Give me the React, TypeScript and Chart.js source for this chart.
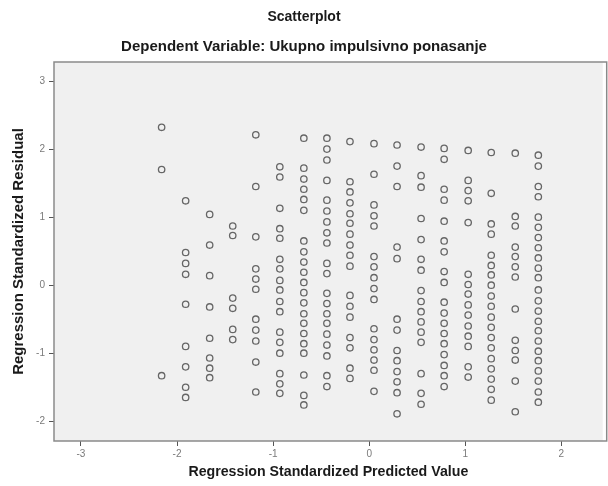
import { useEffect, useRef } from "react";
import { Chart, registerables } from "chart.js";

Chart.register(...registerables);

const titleText = "Scatterplot";
const subtitleText = "Dependent Variable: Ukupno impulsivno ponasanje";
const xAxisTitle = "Regression Standardized Predicted Value";
const yAxisTitle = "Regression Standardized Residual";

const xTickValues = [-3, -2, -1, 0, 1, 2];
const yTickValues = [-2, -1, 0, 1, 2, 3];

// Regression standardized predicted values (one per column of points)
const predictedValues = [
  -2.16, -1.91, -1.66, -1.42, -1.18, -0.93, -0.68, -0.44, -0.2, 0.05, 0.29,
  0.54, 0.78, 1.03, 1.27, 1.52, 1.76,
];

// Regression standardized residuals for each predicted value above
const residualsByColumn = [
  [2.32, 1.7, -1.33],
  [1.24, 0.48, 0.32, 0.16, -0.28, -0.9, -1.2, -1.5, -1.65],
  [1.04, 0.59, 0.14, -0.32, -0.78, -1.07, -1.22, -1.36],
  [0.87, 0.73, -0.19, -0.34, -0.65, -0.8],
  [2.21, 1.45, 0.71, 0.24, 0.09, -0.06, -0.5, -0.66, -0.82, -1.13, -1.57],
  [1.74, 1.59, 1.13, 0.83, 0.69, 0.38, 0.24, 0.07, -0.07, -0.24, -0.39, -0.69, -0.84, -1.0, -1.3, -1.45, -1.59],
  [2.16, 1.72, 1.56, 1.41, 1.26, 1.1, 0.65, 0.49, 0.34, 0.19, 0.04, -0.11, -0.26, -0.42, -0.56, -0.71, -0.86, -1.0, -1.32, -1.62, -1.76],
  [2.16, 2.0, 1.84, 1.54, 1.25, 1.09, 0.93, 0.77, 0.62, 0.32, 0.17, -0.12, -0.27, -0.42, -0.56, -0.72, -0.88, -1.04, -1.33, -1.49],
  [2.11, 1.52, 1.37, 1.21, 1.05, 0.91, 0.75, 0.59, 0.44, 0.28, -0.15, -0.31, -0.47, -0.77, -0.92, -1.22, -1.37],
  [2.08, 1.63, 1.18, 1.02, 0.87, 0.42, 0.27, 0.11, -0.05, -0.21, -0.64, -0.8, -0.95, -1.1, -1.25, -1.56],
  [2.06, 1.75, 1.45, 0.56, 0.39, -0.5, -0.66, -0.96, -1.11, -1.27, -1.42, -1.58, -1.89],
  [2.03, 1.61, 1.44, 0.98, 0.67, 0.38, 0.22, -0.08, -0.24, -0.39, -0.54, -0.69, -0.84, -1.3, -1.59, -1.75],
  [2.01, 1.85, 1.41, 1.25, 0.94, 0.65, 0.49, 0.2, 0.04, -0.25, -0.41, -0.56, -0.71, -0.86, -1.02, -1.18, -1.33, -1.49],
  [1.98, 1.54, 1.39, 1.24, 0.92, 0.16, 0.01, -0.13, -0.29, -0.44, -0.6, -0.75, -0.9, -1.2, -1.35],
  [1.95, 1.35, 0.9, 0.75, 0.44, 0.29, 0.15, 0.0, -0.16, -0.31, -0.47, -0.62, -0.77, -0.92, -1.08, -1.23, -1.38, -1.53, -1.69],
  [1.94, 1.01, 0.87, 0.56, 0.42, 0.27, 0.12, -0.35, -0.81, -0.96, -1.1, -1.41, -1.86],
  [1.91, 1.75, 1.45, 1.3, 1.0, 0.85, 0.7, 0.55, 0.4, 0.25, 0.11, -0.07, -0.23, -0.38, -0.53, -0.67, -0.82, -0.97, -1.11, -1.26, -1.41, -1.57, -1.72],
];

const FONT = "'Liberation Sans', Arial, sans-serif";

const plotFrame = {
  id: "plotFrame",
  beforeDatasetsDraw(chart: any) {
    const { ctx, chartArea } = chart;
    const { left, top, right, bottom } = chartArea;
    ctx.save();
    ctx.fillStyle = "#f0f0f0";
    ctx.fillRect(left, top, right - left, bottom - top);
    ctx.strokeStyle = "#8a8a8a";
    ctx.lineWidth = 1.5;
    ctx.strokeRect(left, top, right - left + 4, bottom - top);
    ctx.restore();
  },
};

export default function App() {
  const canvasRef = useRef<HTMLCanvasElement | null>(null);

  useEffect(() => {
    if (!canvasRef.current) return;
    const points: { x: number; y: number }[] = [];
    predictedValues.forEach((xv, i) => {
      residualsByColumn[i].forEach((yv) => points.push({ x: xv, y: yv }));
    });

    const chart = new Chart(canvasRef.current, {
      type: "scatter",
      data: {
        datasets: [
          {
            data: points,
            pointStyle: "circle",
            pointRadius: 3.2,
            pointBorderWidth: 1.3,
            pointBorderColor: "#666666",
            pointBackgroundColor: "rgba(0,0,0,0)",
          },
        ],
      },
      plugins: [plotFrame],
      options: {
        animation: false,
        responsive: false,
        devicePixelRatio: 1,
        layout: { padding: 0 },
        plugins: {
          legend: { display: false },
          tooltip: { enabled: false },
          title: {
            display: true,
            text: titleText,
            color: "#1a1a1a",
            font: { family: FONT, size: 14, weight: "bold", lineHeight: 1.2 },
            padding: { top: 8.6, bottom: 12.6 },
          },
          subtitle: {
            display: true,
            text: subtitleText,
            color: "#1a1a1a",
            font: { family: FONT, size: 15, weight: "bold", lineHeight: 1.2 },
            padding: { top: 0, bottom: 6.0 },
          },
        },
        scales: {
          x: {
            type: "linear",
            min: -3.28,
            max: 2.43,
            afterBuildTicks: (s: any) => {
              s.ticks = xTickValues.map((v) => ({ value: v }));
            },
            afterFit: (s: any) => {
              s.height = 45;
            },
            ticks: {
              color: "#7a7a7a",
              font: { family: FONT, size: 10 },
              padding: 2,
              callback: (v: any) => String(v),
            },
            grid: {
              drawOnChartArea: false,
              drawTicks: true,
              tickLength: 5,
              color: "#555",
            },
            border: { display: false },
            title: {
              display: true,
              text: xAxisTitle,
              color: "#1a1a1a",
              font: { family: FONT, size: 14.2, weight: "bold", lineHeight: 1.2 },
              padding: { top: 0, bottom: 5.5 },
            },
          },
          y: {
            type: "linear",
            min: -2.29,
            max: 3.28,
            afterBuildTicks: (s: any) => {
              s.ticks = yTickValues.map((v) => ({ value: v }));
            },
            afterFit: (s: any) => {
              s.width = 54;
            },
            ticks: {
              color: "#7a7a7a",
              font: { family: FONT, size: 10 },
              padding: 4,
              callback: (v: any) => String(v),
            },
            grid: {
              drawOnChartArea: false,
              drawTicks: true,
              tickLength: 5,
              color: "#555",
            },
            border: { display: false },
            title: {
              display: true,
              text: yAxisTitle,
              color: "#1a1a1a",
              font: { family: FONT, size: 15, weight: "bold", lineHeight: 1.2 },
              padding: { top: 10, bottom: 0 },
            },
          },
        },
      },
    });
    return () => chart.destroy();
  }, []);

  return (
    <div style={{ position: "absolute", left: 0, top: 0, width: 608, height: 486, background: "#fff" }}>
      <canvas ref={canvasRef} width={608} height={486} style={{ display: "block" }} />
    </div>
  );
}
